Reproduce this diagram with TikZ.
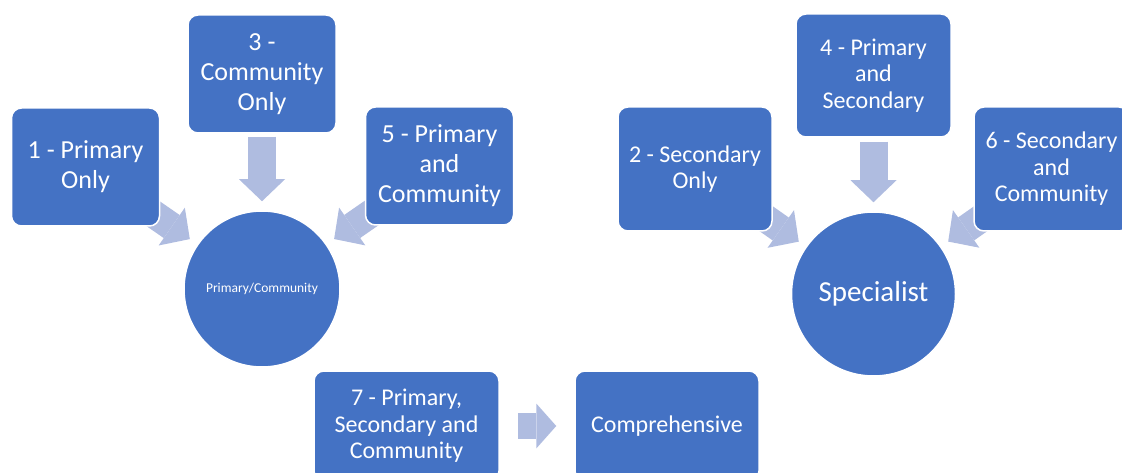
\documentclass[tikz,border=0pt]{standalone}
\usepackage{fontspec}
\setmainfont{Carlito}
\usepackage{xcolor}
\usepackage{tikz}
\usetikzlibrary{arrows.meta}
\usetikzlibrary{backgrounds}
\definecolor{boxblue}{HTML}{4472C4}
\definecolor{arrowblue}{RGB}{175,188,224}
\tikzset{ opt_box/.style = {rectangle, rounded corners=10pt, draw=white, line width=1.5pt, fill=boxblue, text=white, align=center, inner sep=0pt} }
\tikzset{ hub/.style = {circle, draw=white, line width=1.5pt, fill=boxblue, text=white, align=center, inner sep=0pt} }
\tikzset{ flow/.style = {draw=arrowblue, line width=28pt, -{Triangle[width=46pt,length=22pt,line width=0pt]}} }
\tikzset{ flow_short/.style = {draw=arrowblue, line width=26pt, -{Triangle[width=45pt,length=20pt,line width=0pt]}} }
\tikzset{ txt_big/.style = {font=\fontsize{26}{30}\selectfont} }
\tikzset{ txt_mid/.style = {font=\fontsize{24}{26.5}\selectfont} }

\begin{document}
\begin{tikzpicture}[x=1pt, y=-1pt]
        \useasboundingbox (0,0) rectangle (1122,473);
                \node [opt_box, txt_big, minimum width=148pt, minimum height=118pt] (B1) at (85.5, 167) {1 - Primary\\Only};
                \node [opt_box, txt_big, minimum width=148pt, minimum height=118pt] (B3) at (262, 74) {3 -\\Community\\Only};
                \node [opt_box, txt_big, minimum width=148pt, minimum height=118pt] (B5) at (439.5, 166) {5 - Primary\\and\\Community};
                \node [hub, minimum size=156pt, font=\fontsize{13.5}{16}\selectfont] (PC) at (262, 289) {Primary/Community};
                \node [opt_box, txt_mid, minimum width=154pt, minimum height=124pt] (B2) at (695, 169) {2 - Secondary\\Only};
                \node [opt_box, txt_mid, minimum width=155pt, minimum height=123pt] (B4) at (873.5, 75.5) {4 - Primary\\and\\Secondary};
                \node [opt_box, txt_mid, minimum width=155pt, minimum height=124pt] (B6) at (1051.5, 169) {6 - Secondary\\and\\Community};
                \node [hub, minimum size=164pt, font=\fontsize{29}{34}\selectfont] (S) at (873.5, 294) {Specialist};
                \node [opt_box, txt_mid, minimum width=185pt, minimum height=110pt] (B7) at (406.5, 426) {7 - Primary,\\Secondary and\\Community};
                \node [opt_box, txt_mid, minimum width=184pt, minimum height=110pt] (C) at (667, 426) {Comprehensive};
                \begin{scope}[on background layer]
                \draw[flow, shorten <=-28pt, shorten >=9pt] (B1) to (PC);
                \draw[flow, shorten <=3pt, shorten >=9pt] (B3) to (PC);
                \draw[flow, shorten <=-28pt, shorten >=9pt] (B5) to (PC);
                \draw[flow, shorten <=-30pt, shorten >=8.5pt] (B2) to (S);
                \draw[flow, shorten <=4pt, shorten >=9pt] (B4) to (S);
                \draw[flow, shorten <=-30pt, shorten >=8.5pt] (B6) to (S);
                \draw[flow_short, shorten <=18pt, shorten >=18pt] (B7) to (C);
                \end{scope}
        \end{tikzpicture}
\end{document}
